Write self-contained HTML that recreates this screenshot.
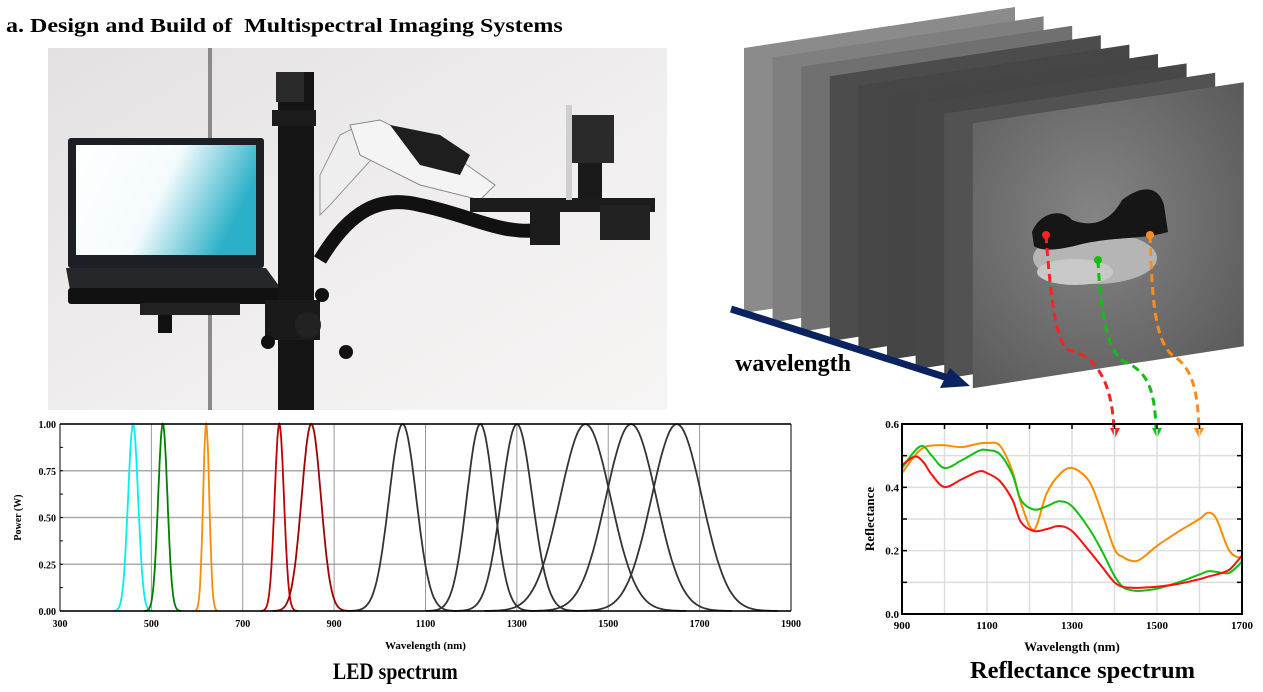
<!DOCTYPE html>
<html><head><meta charset="utf-8"><style>
html,body{margin:0;padding:0;background:#fff;}
body{width:1263px;height:692px;position:relative;overflow:hidden;font-family:"Liberation Serif",serif;}
.t{position:absolute;font-weight:bold;color:#000;white-space:nowrap;}
svg{position:absolute;left:0;top:0;}
</style></head><body>
<div class="t" style="left:6px;top:15px;font-size:20px;transform:scaleX(1.2);transform-origin:0 0;">a. Design and Build of&nbsp; Multispectral Imaging Systems</div>

<svg width="1263" height="692">
 <defs>
  <linearGradient id="bg" x1="0" y1="0" x2="1" y2="1"><stop offset="0" stop-color="#e4e1e3"/><stop offset="0.6" stop-color="#f1efef"/><stop offset="1" stop-color="#f6f5f4"/></linearGradient>
  <linearGradient id="scr" x1="0" y1="0" x2="1" y2="0.3"><stop offset="0" stop-color="#fff"/><stop offset="0.55" stop-color="#f4fbfd"/><stop offset="1" stop-color="#2ab0c8"/></linearGradient>
  <radialGradient id="front" cx="0.45" cy="0.45" r="0.7"><stop offset="0" stop-color="#858585"/><stop offset="1" stop-color="#5a5a5a"/></radialGradient>
 </defs>
 <g>
  <rect x="48" y="48" width="619" height="362" fill="url(#bg)"/>
  <rect x="208" y="48" width="4" height="362" fill="#8a8a8a"/>
  <rect x="68" y="138" width="196" height="130" rx="3" fill="#1d1f24"/>
  <rect x="76" y="145" width="180" height="110" fill="url(#scr)"/>
  <polygon points="66,268 266,268 282,290 70,290" fill="#26272b"/>
  <rect x="68" y="288" width="215" height="16" rx="3" fill="#111"/>
  <rect x="140" y="303" width="100" height="12" fill="#222"/>
  <rect x="158" y="315" width="14" height="18" fill="#111"/>
  <rect x="278" y="72" width="36" height="338" fill="#141414"/>
  <rect x="276" y="72" width="28" height="30" fill="#2a2a2a"/>
  <rect x="272" y="110" width="44" height="16" fill="#1c1c1c"/>
  <rect x="265" y="300" width="55" height="40" fill="#1a1a1a"/>
  <circle cx="308" cy="325" r="13" fill="#222"/>
  <circle cx="268" cy="342" r="7" fill="#111"/><circle cx="346" cy="352" r="7" fill="#111"/>
  <circle cx="322" cy="295" r="7" fill="#111"/>
  <polygon points="320,175 340,135 360,125 380,150 330,205 320,215" fill="#eee" stroke="#999"/>
  <polygon points="350,125 380,120 460,160 495,185 480,200 420,185 360,155" fill="#f4f4f4" stroke="#888"/>
  <polygon points="390,125 440,135 470,155 460,175 420,165" fill="#1e1e1e"/>
  <path d="M320,260 C350,210 380,195 420,205 C470,215 500,235 540,230" stroke="#111" stroke-width="14" fill="none"/>
  <rect x="470" y="198" width="185" height="14" fill="#1c1c1c"/>
  <rect x="530" y="205" width="30" height="40" fill="#1c1c1c"/>
  <rect x="600" y="205" width="50" height="35" fill="#222"/>
  <rect x="570" y="115" width="44" height="48" fill="#2a2a2a"/>
  <rect x="578" y="163" width="24" height="36" fill="#1a1a1a"/>
  <rect x="566" y="105" width="6" height="95" fill="#cfcfcf"/>
 </g>
 <g id="stack"></g>
 <line x1="731" y1="309" x2="948" y2="378" stroke="#0b2260" stroke-width="7"/>
 <polygon points="970,386 940,388 950,368" fill="#0b2260"/>
 <text x="735" y="371" font-family="Liberation Serif" font-weight="bold" font-size="24">wavelength</text>
 <g id="blob">
  <ellipse cx="1095" cy="258" rx="62" ry="26" fill="#b5b5b5"/>
  <ellipse cx="1075" cy="272" rx="38" ry="13" fill="#c8c8c8"/>
  <path d="M1032,232 C1040,212 1062,208 1072,220 C1092,228 1110,222 1122,200 C1140,186 1158,184 1164,205 L1168,232 C1140,240 1118,236 1082,244 C1060,250 1042,252 1034,246 Z" fill="#161616"/>
 </g>
 <g id="links"></g>
 <g id="led"></g>
 <g id="refl"></g>
</svg>
<div class="t" style="left:333px;top:659px;font-size:23px;transform:scaleX(0.86);transform-origin:0 0;">LED spectrum</div>
<div class="t" style="left:970px;top:658px;font-size:24px;transform:scaleX(1.02);transform-origin:0 0;">Reflectance spectrum</div>

<script>
const ledCenters = [460, 525, 620, 780, 850, 1050, 1220, 1300, 1450, 1550, 1650];
const ledFwhm = [26, 24, 16, 24, 50, 70, 70, 80, 130, 130, 130];
const ledPeak = [1, 1, 1, 1, 1, 1, 1, 1, 1, 1, 1];
const ledColors = ["#00f0f0","#008000","#ff8c00","#c00000","#a00000","#333","#333","#333","#333","#333","#333"];
const ledXTicks = [300, 500, 700, 900, 1100, 1300, 1500, 1700, 1900];
const ledYTicks = [0, 0.25, 0.5, 0.75, 1.0];
const reflWl = [900, 930, 950, 970, 1000, 1040, 1080, 1100, 1130, 1160, 1180, 1210, 1240, 1270, 1300, 1340, 1370, 1400, 1420, 1440, 1460, 1500, 1550, 1600, 1620, 1640, 1670, 1700];
const reflRed = [0.47, 0.497, 0.48, 0.44, 0.401, 0.425, 0.45, 0.445, 0.42, 0.36, 0.29, 0.262, 0.268, 0.278, 0.262, 0.2, 0.15, 0.1, 0.086, 0.083, 0.083, 0.086, 0.095, 0.11, 0.118, 0.125, 0.14, 0.185];
const reflGreen = [0.46, 0.515, 0.53, 0.5, 0.461, 0.485, 0.515, 0.518, 0.505, 0.44, 0.36, 0.33, 0.34, 0.356, 0.34, 0.27, 0.2, 0.12, 0.085, 0.075, 0.073, 0.08, 0.1, 0.125, 0.135, 0.133, 0.13, 0.165];
const reflOrange = [0.445, 0.5, 0.525, 0.532, 0.533, 0.527, 0.538, 0.54, 0.532, 0.45, 0.35, 0.266, 0.38, 0.44, 0.461, 0.42, 0.32, 0.205, 0.18, 0.168, 0.172, 0.215, 0.26, 0.3, 0.32, 0.3, 0.2, 0.175];
const reflXTicks = [900, 1100, 1300, 1500, 1700];
const reflYTicks = [0, 0.2, 0.4, 0.6];

const NS = "http://www.w3.org/2000/svg";
function mk(parent, tag, attrs) {
  const e = document.createElementNS(NS, tag);
  for (const k in attrs) e.setAttribute(k, attrs[k]);
  parent.appendChild(e);
  return e;
}

(function () {
  const g = document.getElementById('stack');
  const shades = ["#8b8b8b","#7f7f7f","#707070","#4c4c4c","#464646","#454545","#474747","#525252"];
  for (let i = 0; i < 9; i++) {
    const dx = 28.6 * i, dy = 9.4 * i;
    const p = mk(g, 'polygon', {points: `${744+dx},${48+dy} ${1015+dx},${7+dy} ${1015+dx},${271+dy} ${744+dx},${313+dy}`, fill: i < 8 ? shades[i] : 'url(#front)'});
    
    
  }
})();

(function () {
  const g = document.getElementById('links');
  const L = [
    {c: "#ff2020", d: "M1046,235 C1050,290 1055,340 1068,350 C1095,355 1112,380 1114,430", dot: [1046,235], ar: 1115},
    {c: "#10c010", d: "M1098,260 C1100,310 1108,355 1125,362 C1150,372 1155,395 1156,430", dot: [1098,260], ar: 1157},
    {c: "#ff8c1a", d: "M1150,235 C1152,300 1155,345 1175,357 C1195,370 1198,400 1199,430", dot: [1150,235], ar: 1199}
  ];
  L.forEach(l => {
    const p = mk(g, 'path', {d: l.d, stroke: l.c, 'stroke-width': 3, 'stroke-dasharray': '8 5', fill: 'none'});
    
    
    const c = mk(g, 'circle', {cx: l.dot[0], cy: l.dot[1], r: 4, fill: l.c});
    
    
    const a = mk(g, 'polygon', {points: `${l.ar-5},${428} ${l.ar+5},${428} ${l.ar},${438}`, fill: l.c});
    
    
  });
})();

(function () {
  const g = document.getElementById('led');
  const X0 = 60, X1 = 791, Y0 = 611, Y1 = 424;
  const x = v => X0 + (v - 300) / 1600 * (X1 - X0);
  const y = v => Y0 - v * (Y0 - Y1);
  ledYTicks.forEach(t => {
    const l = mk(g, 'line', {x1: X0, x2: X1, y1: y(t), y2: y(t), stroke: '#aaa', 'stroke-width': 1.5});
    
    
    const tx = mk(g, 'text', {x: X0 - 4, y: y(t) + 4, 'text-anchor': 'end', 'font-size': 10, 'font-weight': 'bold', 'font-family': 'Liberation Serif'});
    tx.textContent = t.toFixed(2);
    
    
  });
  for (let t = 0.125; t < 1; t += 0.125) {
    const m = mk(g, 'line', {x1: X0, x2: X0 + 3, y1: y(t), y2: y(t), stroke: '#000'});
    
    
  }
  ledXTicks.forEach(t => {
    const l = mk(g, 'line', {x1: x(t), x2: x(t), y1: Y0, y2: Y1, stroke: '#999', 'stroke-width': 1});
    
    
    const tx = mk(g, 'text', {x: x(t), y: Y0 + 16, 'text-anchor': 'middle', 'font-size': 10, 'font-weight': 'bold', 'font-family': 'Liberation Serif'});
    tx.textContent = t;
    
    
  });
  ledCenters.forEach((c, i) => {
    const s = ledFwhm[i] / 2.3548;
    let d = '';
    for (let w = c - 4 * s; w <= c + 4 * s; w += s / 10) {
      const v = ledPeak[i] * Math.exp(-0.5 * ((w - c) / s) ** 2);
      d += (d ? 'L' : 'M') + x(w).toFixed(1) + ',' + y(v).toFixed(1);
    }
    const p = mk(g, 'path', {d, fill: 'none', stroke: ledColors[i], 'stroke-width': 1.8});
    
    
  });
  mk(g, 'line', {x1: X0, x2: X1, y1: Y1, y2: Y1, stroke: '#000', 'stroke-width': 1.5});
  mk(g, 'line', {x1: X0, x2: X1, y1: Y0, y2: Y0, stroke: '#000', 'stroke-width': 1.5});
  mk(g, 'line', {x1: X0, x2: X0, y1: Y0, y2: Y1, stroke: '#000', 'stroke-width': 1});
  mk(g, 'line', {x1: X1, x2: X1, y1: Y0, y2: Y1, stroke: '#000', 'stroke-width': 1});
  const xt = mk(g, 'text', {x: (X0 + X1) / 2, y: 649, 'text-anchor': 'middle', 'font-size': 11, 'font-weight': 'bold', 'font-family': 'Liberation Serif'});
  xt.textContent = 'Wavelength (nm)';
  
  
  const yt = mk(g, 'text', {x: 0, y: 0, transform: `translate(21,${(Y0 + Y1) / 2}) rotate(-90)`, 'text-anchor': 'middle', 'font-size': 10, 'font-weight': 'bold', 'font-family': 'Liberation Serif'});
  yt.textContent = 'Power (W)';
  
  
})();

(function () {
  const g = document.getElementById('refl');
  const X0 = 902, X1 = 1242, Y0 = 614, Y1 = 424;
  const x = v => X0 + (v - 900) / 800 * (X1 - X0);
  const y = v => Y0 - v / 0.6 * (Y0 - Y1);
  for (let t = 1000; t < 1700; t += 100) {
    const l = mk(g, 'line', {x1: x(t), x2: x(t), y1: Y0, y2: Y1, stroke: '#ddd', 'stroke-width': 1.5});
    
    
    const k = mk(g, 'line', {x1: x(t), x2: x(t), y1: Y1, y2: Y1 + 5, stroke: '#000', 'stroke-width': 1.5});
    
    
  }
  for (let i = 1; i < 6; i++) {
    const t = i * 0.1;
    const l = mk(g, 'line', {x1: X0, x2: X1, y1: y(t), y2: y(t), stroke: '#ddd', 'stroke-width': 1.5});
    
    
    mk(g, 'line', {x1: X0, x2: X0 + 5, y1: y(t), y2: y(t), stroke: '#000', 'stroke-width': 1.5});
    mk(g, 'line', {x1: X1 - 5, x2: X1, y1: y(t), y2: y(t), stroke: '#000', 'stroke-width': 1.5});
  }
  reflYTicks.forEach(t => {
    const tx = mk(g, 'text', {x: X0 - 3, y: y(t) + 4, 'text-anchor': 'end', 'font-size': 11, 'font-weight': 'bold', 'font-family': 'Liberation Serif'});
    tx.textContent = t.toFixed(1);
    
    
  });
  reflXTicks.forEach(t => {
    const tx = mk(g, 'text', {x: x(t), y: Y0 + 15, 'text-anchor': 'middle', 'font-size': 11, 'font-weight': 'bold', 'font-family': 'Liberation Serif'});
    tx.textContent = t;
    
    
  });
  function smooth(vals) {
    const pts = reflWl.map((w, i) => [x(w), y(vals[i])]);
    let d = 'M' + pts[0][0] + ',' + pts[0][1];
    for (let i = 0; i < pts.length - 1; i++) {
      const p0 = pts[Math.max(0, i - 1)], p1 = pts[i], p2 = pts[i + 1], p3 = pts[Math.min(pts.length - 1, i + 2)];
      const c1 = [p1[0] + (p2[0] - p0[0]) / 6, p1[1] + (p2[1] - p0[1]) / 6];
      const c2 = [p2[0] - (p3[0] - p1[0]) / 6, p2[1] - (p3[1] - p1[1]) / 6];
      d += `C${c1[0].toFixed(1)},${c1[1].toFixed(1)} ${c2[0].toFixed(1)},${c2[1].toFixed(1)} ${p2[0].toFixed(1)},${p2[1].toFixed(1)}`;
    }
    return d;
  }
  const o = mk(g, 'path', {d: smooth(reflOrange), fill: 'none', stroke: '#ff8c00', 'stroke-width': 2});
  
  
  const gr = mk(g, 'path', {d: smooth(reflGreen), fill: 'none', stroke: '#10c010', 'stroke-width': 2});
  
  
  const r = mk(g, 'path', {d: smooth(reflRed), fill: 'none', stroke: '#ff1010', 'stroke-width': 2});
  
  
  const b = mk(g, 'rect', {x: X0, y: Y1, width: X1 - X0, height: Y0 - Y1, fill: 'none', stroke: '#000', 'stroke-width': 2});
  
  
  const xt = mk(g, 'text', {x: (X0 + X1) / 2, y: 651, 'text-anchor': 'middle', 'font-size': 13, 'font-weight': 'bold', 'font-family': 'Liberation Serif'});
  xt.textContent = 'Wavelength (nm)';
  
  
  const yt = mk(g, 'text', {x: 0, y: 0, transform: `translate(874,${(Y0 + Y1) / 2}) rotate(-90)`, 'text-anchor': 'middle', 'font-size': 13, 'font-weight': 'bold', 'font-family': 'Liberation Serif'});
  yt.textContent = 'Reflectance';
  
  
})();
</script>
</body></html>
